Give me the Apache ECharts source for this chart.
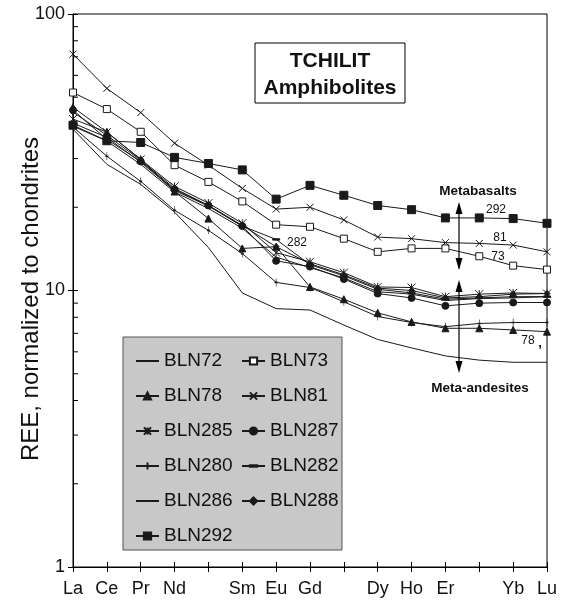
<!DOCTYPE html>
<html>
<head>
<meta charset="utf-8">
<script src="https://cdn.jsdelivr.net/npm/echarts@6/dist/echarts.min.js"></script>
<style>
html,body{margin:0;padding:0;background:#fff;}
#chart{width:562px;height:606px;}
</style>
</head>
<body>
<div id="chart"></div>
<script>
// REE elements (by atomic number, Pm/Tb/Tm positions unlabeled)
const categories = ['La','Ce','Pr','Nd','Pm','Sm','Eu','Gd','Tb','Dy','Ho','Er','Tm','Yb','Lu'];
const tickLabels = ['La','Ce','Pr','Nd','','Sm','Eu','Gd','','Dy','Ho','Er','','Yb','Lu'];
const minorTickValues = [2,3,4,5,6,7,8,9,20,30,40,50,60,70,80,90];

// chondrite-normalized REE values
const BLN72  = [38.3, 28.6, 24.2, 19.2, 14.3, 9.8, 8.6, 8.5, 7.5, 6.65, 6.2, 5.8, 5.6, 5.5, 5.5];
const BLN73  = [52.0, 45.3, 37.5, 28.4, 24.7, 21.0, 17.3, 17.0, 15.4, 13.8, 14.2, 14.2, 13.3, 12.3, 11.9];
const BLN78  = [46.0, 37.4, 29.8, 22.8, 18.2, 14.2, 14.4, 10.3, 9.3, 8.3, 7.7, 7.3, 7.3, 7.2, 7.1];
const BLN81  = [71.6, 53.8, 44.0, 34.1, 28.4, 23.4, 19.7, 20.0, 18.0, 15.6, 15.4, 14.9, 14.8, 14.6, 13.8];
const BLN285 = [41.7, 37.4, 29.8, 23.8, 20.7, 17.5, 13.7, 12.7, 11.6, 10.3, 10.25, 9.5, 9.7, 9.8, 9.75];
const BLN287 = [44.9, 35.2, 29.3, 23.2, 20.3, 17.1, 12.8, 12.2, 11.0, 9.75, 9.4, 8.8, 9.0, 9.05, 9.05];
const BLN280 = [39.0, 30.6, 24.8, 19.5, 16.5, 13.6, 10.7, 10.25, 9.1, 8.05, 7.66, 7.4, 7.6, 7.66, 7.66];
const BLN282 = [40.3, 35.8, 29.1, 23.0, 20.2, 17.1, 15.3, 12.4, 11.3, 10.1, 9.8, 9.3, 9.4, 9.5, 9.5];
const BLN286 = [39.3, 34.7, 28.6, 22.7, 19.8, 16.8, 13.2, 12.1, 11.1, 9.9, 9.7, 9.2, 9.35, 9.4, 9.5];
const BLN288 = [44.2, 36.4, 29.6, 23.4, 20.3, 17.2, 14.4, 12.5, 11.4, 10.2, 10.0, 9.4, 9.5, 9.7, 9.75];
const BLN292 = [39.6, 34.8, 34.3, 30.3, 28.8, 27.3, 21.4, 24.0, 22.1, 20.3, 19.6, 18.3, 18.3, 18.2, 17.5];

const FONT = '"Liberation Sans", Arial, sans-serif';
const INK = '#1a1a1a';
const NONE = 'rgba(0,0,0,0)';

const seriesDefs = [
  {name:'BLN72',  data:BLN72,  symbol:'circle', hidden:true},
  {name:'BLN73',  data:BLN73,  symbol:'rect', size:7, fill:'#fff'},
  {name:'BLN78',  data:BLN78,  symbol:'triangle', size:7},
  {name:'BLN81',  data:BLN81,  symbol:'path://M0,0L10,10M10,0L0,10', size:7},
  {name:'BLN285', data:BLN285, symbol:'path://M0,0L10,10M10,0L0,10M5,0L5,10', size:8},
  {name:'BLN287', data:BLN287, symbol:'circle', size:7},
  {name:'BLN280', data:BLN280, symbol:'path://M5,0L5,10M0,5L10,5', size:[3,8]},
  {name:'BLN282', data:BLN282, symbol:'path://M0,0M0,4L10,4L10,6L0,6ZM10,10', size:7},
  {name:'BLN286', data:BLN286, symbol:'circle', hidden:true},
  {name:'BLN288', data:BLN288, symbol:'diamond', size:6},
  {name:'BLN292', data:BLN292, symbol:'rect', size:8}
];

const series = seriesDefs.map(d => ({
  name: d.name,
  type: 'line',
  data: d.data,
  symbol: d.symbol,
  symbolSize: d.size || 6,
  showSymbol: !d.hidden,
  lineStyle: {color: INK, width: 1},
  itemStyle: d.hidden ? {color: NONE, borderColor: NONE, borderWidth: 0}
                      : {color: d.fill || INK, borderColor: INK, borderWidth: 1},
  emphasis: {disabled: true},
  animation: false,
  z: 3
}));

// minor log ticks on the left axis (inside)
series.push({
  type: 'custom',
  name: 'minorTicks',
  data: minorTickValues.map(v => [0, v]),
  encode: {x: 0, y: 1},
  silent: true,
  clip: false,
  animation: false,
  renderItem: function (params, api) {
    const p = api.coord([0, api.value(1)]);
    return {type:'line', shape:{x1:p[0], y1:p[1], x2:p[0]+5, y2:p[1]}, style:{stroke:'#000', lineWidth:1}};
  }
});

const chart = echarts.init(document.getElementById('chart'), null, {renderer:'canvas'});
chart.setOption({
  backgroundColor: '#fff',
  animation: false,
  grid: {left: 73, top: 14, width: 474, height: 553, show: true, borderColor: '#000', borderWidth: 1, backgroundColor: 'transparent'},
  xAxis: [{
    type: 'category', data: categories, boundaryGap: false,
    axisLine: {lineStyle: {color: '#000', width: 1}},
    axisTick: {show: true, length: 5, interval: 0, lineStyle: {color: '#000'}},
    axisLabel: {interval: 0, margin: 13, color: '#111', fontFamily: FONT, fontSize: 18,
      formatter: (v, i) => tickLabels[i]},
    splitLine: {show: false}
  }, {
    type: 'category', data: categories, boundaryGap: false, position: 'bottom',
    axisLine: {show: false},
    axisTick: {show: true, inside: true, length: 5, interval: 0, lineStyle: {color: '#000'}},
    axisLabel: {show: false}, splitLine: {show: false}
  }],
  yAxis: [{
    type: 'log', logBase: 10, min: 1, max: 100,
    axisLine: {show: true, lineStyle: {color: '#000', width: 1}},
    axisTick: {show: true, length: 5, lineStyle: {color: '#000'}},
    axisLabel: {margin: 8, color: '#111', fontFamily: FONT, fontSize: 18},
    splitLine: {show: false}, minorTick: {show: false}
  }, {
    type: 'log', logBase: 10, min: 1, max: 100, position: 'left',
    axisLine: {show: false},
    axisTick: {show: true, inside: true, length: 5, lineStyle: {color: '#000'}},
    axisLabel: {show: false}, splitLine: {show: false}
  }],
  legend: {
    data: seriesDefs.map(d => d.name),
    left: 123, top: 337, width: 214,
    orient: 'horizontal',
    backgroundColor: '#c8c8c8',
    borderColor: '#555', borderWidth: 1,
    padding: [10, 2, 0, 12],
    itemGap: 7, itemWidth: 23, itemHeight: 9,
    selectedMode: false,
    textStyle: {fontFamily: FONT, fontSize: 19, color: '#111', width: 70, lineHeight: 28, height: 28}
  },
  series: series,
  graphic: [
    {type:'rect', shape:{x:255, y:43, width:150, height:60}, style:{fill:'#fff', stroke:'#000', lineWidth:1}, z:10},
    {type:'text', x:330, y:61, style:{text:'TCHILIT', font:'bold 21px ' + FONT, fill:'#111', textAlign:'center', textVerticalAlign:'middle'}, z:11},
    {type:'text', x:330, y:88, style:{text:'Amphibolites', font:'bold 21px ' + FONT, fill:'#111', textAlign:'center', textVerticalAlign:'middle'}, z:11},
    {type:'text', x:31, y:299, rotation: Math.PI/2, style:{text:'REE, normalized to chondrites', font:'24px ' + FONT, fill:'#111', textAlign:'center', textVerticalAlign:'middle'}},
    {type:'text', x:478, y:191, style:{text:'Metabasalts', font:'bold 13.5px ' + FONT, fill:'#111', textAlign:'center', textVerticalAlign:'middle'}, z:11},
    {type:'text', x:480, y:388, style:{text:'Meta-andesites', font:'bold 13.5px ' + FONT, fill:'#111', textAlign:'center', textVerticalAlign:'middle'}, z:11},
    // arrows
    {type:'line', shape:{x1:459, y1:205, x2:459, y2:268}, style:{stroke:'#000', lineWidth:1.2}, z:11},
    {type:'polygon', shape:{points:[[459,202],[455.5,214],[462.5,214]]}, style:{fill:'#000'}, z:11},
    {type:'polygon', shape:{points:[[459,270],[455.5,258],[462.5,258]]}, style:{fill:'#000'}, z:11},
    {type:'line', shape:{x1:459, y1:283, x2:459, y2:370}, style:{stroke:'#000', lineWidth:1.2}, z:11},
    {type:'polygon', shape:{points:[[459,280],[455.5,292],[462.5,292]]}, style:{fill:'#000'}, z:11},
    {type:'polygon', shape:{points:[[459,373],[455.5,361],[462.5,361]]}, style:{fill:'#000'}, z:11},
    // series labels
    {type:'text', x:496, y:210, style:{text:'292', font:'12px ' + FONT, fill:'#111', textAlign:'center', textVerticalAlign:'middle'}, z:11},
    {type:'text', x:500, y:238, style:{text:'81', font:'12px ' + FONT, fill:'#111', textAlign:'center', textVerticalAlign:'middle'}, z:11},
    {type:'text', x:498, y:257, style:{text:'73', font:'12px ' + FONT, fill:'#111', textAlign:'center', textVerticalAlign:'middle'}, z:11},
    {type:'text', x:297, y:243, style:{text:'282', font:'12px ' + FONT, fill:'#111', textAlign:'center', textVerticalAlign:'middle'}, z:11},
    {type:'text', x:528, y:341, style:{text:'78', font:'12px ' + FONT, fill:'#111', textAlign:'center', textVerticalAlign:'middle'}, z:11},
    {type:'text', x:540, y:343, style:{text:',', font:'bold 13px ' + FONT, fill:'#111', textAlign:'center', textVerticalAlign:'middle'}, z:11}
  ]
});
</script>
</body>
</html>
